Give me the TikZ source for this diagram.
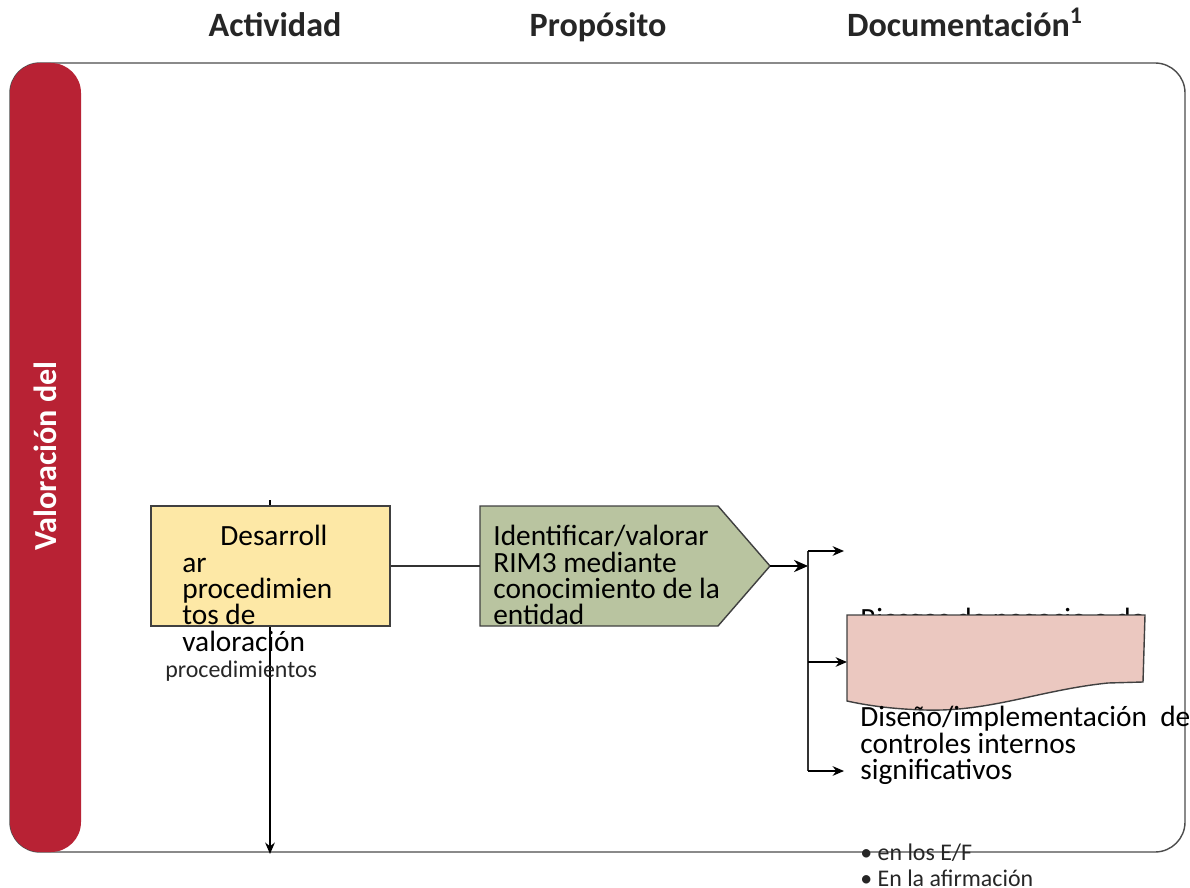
\documentclass[tikz,border=0pt]{standalone}
\usepackage{fontspec}
\setmainfont{Carlito}
\usetikzlibrary{positioning,arrows.meta}
\definecolor{barRed}{RGB}{184,34,52}
\definecolor{actYellow}{RGB}{253,232,166}
\definecolor{purpGreen}{RGB}{185,196,160}
\definecolor{docPink}{RGB}{235,200,192}
\tikzstyle{arrow} = [line width=0.7pt,-{Stealth[length=6.5pt,width=5.5pt]}]
\tikzstyle{bigArrow} = [line width=0.7pt,-{Stealth[length=8pt,width=7pt]}]
\tikzstyle{line} = [line width=0.7pt, draw=black!80]
\tikzstyle{tHead} = [font=\fontsize{19.4}{23}\selectfont\bfseries, text=black!85, anchor=base]
\tikzstyle{tBody} = [font=\fontsize{16.7}{15}\selectfont, align=left, anchor=north west, inner sep=0pt]
\tikzstyle{tSmall} = [font=\fontsize{13.6}{14.4}\selectfont, align=left, anchor=north west, inner sep=0pt, text=black!85]
\tikzstyle{tRect} = [rectangle, draw=black!75, line width=0.8pt, minimum width=4.78cm, minimum height=2.4cm]
\begin{document}
\begin{tikzpicture}[x=0.02cm, y=-0.02cm]
        \useasboundingbox (0,0) rectangle (1190,888);
        % frame and lane bar
        \draw[draw=black!70, line width=0.8pt, rounded corners=0.6cm] (10,63) rectangle (1185,852);
        \fill[barRed, rounded corners=0.6cm] (10,63) rectangle (81,852);
        \node[font=\fontsize{18.3}{22}\selectfont\bfseries, text=white, rotate=90] (Lane) at (45,456) {Valoración del};
        % column heads
        \node[tHead] (HAct) at (275,37) {Actividad};
        \node[tHead] (HPurp) at (598,37) {Propósito};
        \node[tHead] (HDoc) at (965,37) {Documentación\textsuperscript{1}};
        % activity
        \coordinate (ActTop) at (270,500);
        \coordinate (ActEnd) at (270,854);
        \draw[arrow] (ActTop) -- (ActEnd);
        \node[tRect, fill=actYellow] (Act) at (270.5,566) {};
        \node[tBody] (ActText) at (182,525) {\hspace*{0.76cm}Desarroll\\ar\\procedimien\\tos de\\valoración};
        \node[tSmall] (ActNote) at (165,661) {procedimientos};
        % purpose
        \draw[draw=black!75, line width=0.8pt, fill=purpGreen] (480,506) -- (718,506) -- (770,566) -- (718,626) -- (480,626) -- cycle;
        \coordinate (PurpIn) at (480,566);
        \coordinate (PurpTip) at (770,566);
        \node[tBody] (PurpText) at (493,525) {Identificar/valorar\\RIM3 mediante\\conocimiento de la\\entidad};
        \draw[line] (Act.east) -- (PurpIn);
        % branches
        \coordinate (Split) at (808,566);
        \coordinate (SplitTop) at (808,551);
        \coordinate (SplitMid) at (808,662);
        \coordinate (SplitBot) at (808,771);
        \draw[bigArrow] (PurpTip) -- (Split);
        \draw[line] (SplitTop) -- (SplitBot);
        \coordinate (DocA) at (844,551);
        \coordinate (DocB) at (847,662);
        \coordinate (DocC) at (844,771);
        \draw[arrow] (SplitTop) -- (DocA);
        \draw[arrow] (SplitMid) -- (DocB);
        \draw[arrow] (SplitBot) -- (DocC);
        % documentation
        \node[tBody] (DocRisk) at (860,608) {Riesgos de negocio o de};
        \draw[draw=black!75, line width=0.8pt, fill=docPink] (847,615) -- (1145,615) -- (1143,682) -- (1108,683)
            .. controls (1040,690) and (990,712) .. (925,710) .. controls (890,709) and (865,705) .. (847,701) -- cycle;
        \node[tBody] (DocCtrl) at (860,706) {Diseño/implementación~ de\\controles internos\\significativos};
        \node[tSmall] (DocList) at (860,844) {\textbullet\ en los E/F\\\textbullet\ En la afirmación};
    \end{tikzpicture}
\end{document}
